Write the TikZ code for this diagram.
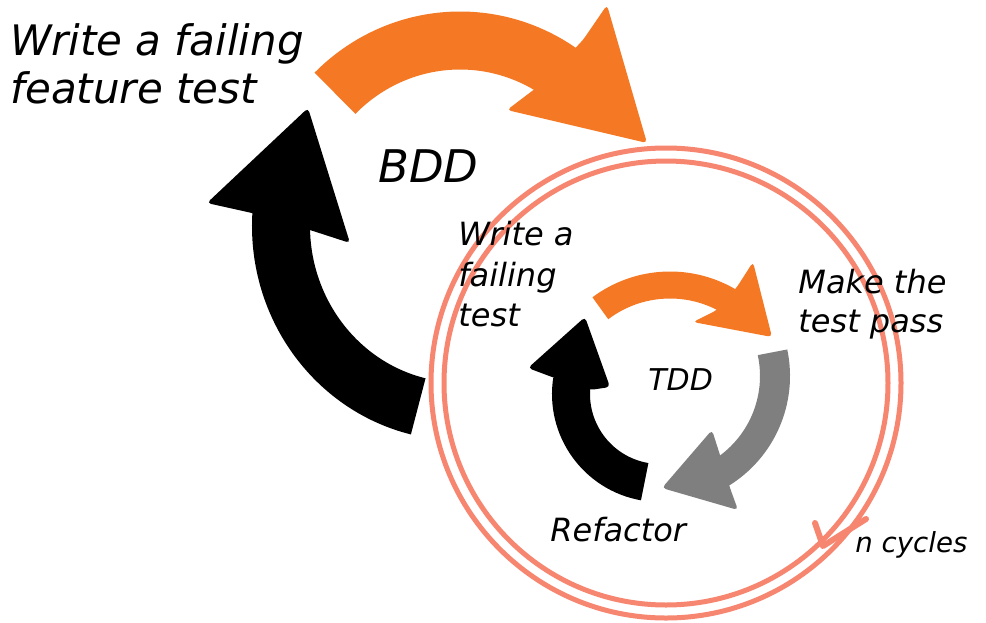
\documentclass[tikz,border=0pt]{standalone}
\usepackage{fontspec}
\setmainfont{DejaVu Sans}
\definecolor{cycorange}{RGB}{245,121,36}
\definecolor{cycgray}{RGB}{127,127,127}
\definecolor{ringsalmon}{RGB}{247,134,112}
\tikzset{
  bddshaft/.style={line width=29pt},
  headfill/.style={rounded corners=2pt},
  ringline/.style={draw=ringsalmon, line width=2.5pt},
  lbl/.style={inner sep=0pt, anchor=base west, text=black},
  fbig/.style={font=\itshape\fontsize{21}{25}\selectfont},
  fbdd/.style={font=\itshape\fontsize{22.5}{27}\selectfont},
  fmid/.style={font=\itshape\fontsize{16}{19}\selectfont},
  ftdd/.style={font=\itshape\fontsize{15}{18}\selectfont},
  fsmall/.style={font=\itshape\fontsize{13.8}{16}\selectfont}
}
\begin{document}
\begin{tikzpicture}[x=0.5pt,y=-0.5pt]
\useasboundingbox (0,0) rectangle (986,622);
\fill[white] (0,0) rectangle (986,622);

% ---------- BDD cycle ----------
\coordinate (bddc) at (460,226);
% orange: write failing feature test -> inner cycle
\draw[bddshaft, draw=cycorange] (bddc) ++(-134.3:179 and 185.5)
  arc[start angle=-134.3, end angle=-55, x radius=179, y radius=185.5];
\fill[cycorange, headfill] (583,40) -- (607,5) -- (647,143) -- (507,110) -- (540,85) -- cycle;
% black: back up to feature test
\draw[bddshaft, draw=black] (bddc) ++(103.5:179 and 185.5)
  arc[start angle=103.5, end angle=184, x radius=179, y radius=185.5];
\fill[black, headfill] (252,213) -- (207,203) -- (308,108) -- (350,243) -- (310,230) -- cycle;

% ---------- TDD cycle ----------
\coordinate (tddo) at (670,401);
\coordinate (tddg) at (661,376);
\coordinate (tddb) at (660,394);
% orange
\draw[draw=cycorange, line width=13.5pt] (tddo) ++(-126.9:116)
  arc[start angle=-126.9, end angle=-58, radius=116];
\fill[cycorange, headfill] (737,287) -- (753,262) -- (772,337) -- (693,322) -- (717,310) -- cycle;
% gray
\draw[draw=cycgray, line width=15pt] (tddg) ++(-12:114)
  arc[start angle=-12, end angle=59, radius=114];
\fill[cycgray, headfill] (720,455) -- (712,430) -- (662,488) -- (738,510) -- (730,488) -- cycle;
% black
\draw[draw=black, line width=19pt] (tddb) ++(99.9:89)
  arc[start angle=99.9, end angle=189, radius=89];
\fill[black, headfill] (552,377) -- (528,368) -- (585,317) -- (610,387) -- (590,390) -- cycle;

% ---------- n cycles ring ----------
\coordinate (ringc) at (666,383);
\draw[ringline] (ringc) circle[radius=235];
\draw[ringline] (ringc) circle[radius=222];
\coordinate (ringbarbA) at (815,523);
\coordinate (ringtip) at (823,546);
\coordinate (ringbarbB) at (866,519);
\draw[ringline, line width=3pt, line cap=round, line join=round] (ringbarbA) -- (ringtip) -- (ringbarbB);

% ---------- labels ----------
\node[lbl, fbig] (feat1) at (10,55) {Write a failing};
\node[lbl, fbig] (feat2) at (10,103) {feature test};
\node[lbl, fbdd] (bdd) at (378,182) {BDD};
\node[lbl, fmid] (wft1) at (458,245) {Write a};
\node[lbl, fmid] (wft2) at (458,286) {failing};
\node[lbl, fmid] (wft3) at (458,326) {test};
\node[lbl, fmid] (mtp1) at (798,293) {Make the};
\node[lbl, fmid] (mtp2) at (798,332) {test pass};
\node[lbl, ftdd] (tdd) at (648,390) {TDD};
\node[lbl, fmid] (refac) at (550,541) {Refactor};
\node[lbl, fsmall] (ncyc) at (855,552) {n cycles};
\end{tikzpicture}
\end{document}
